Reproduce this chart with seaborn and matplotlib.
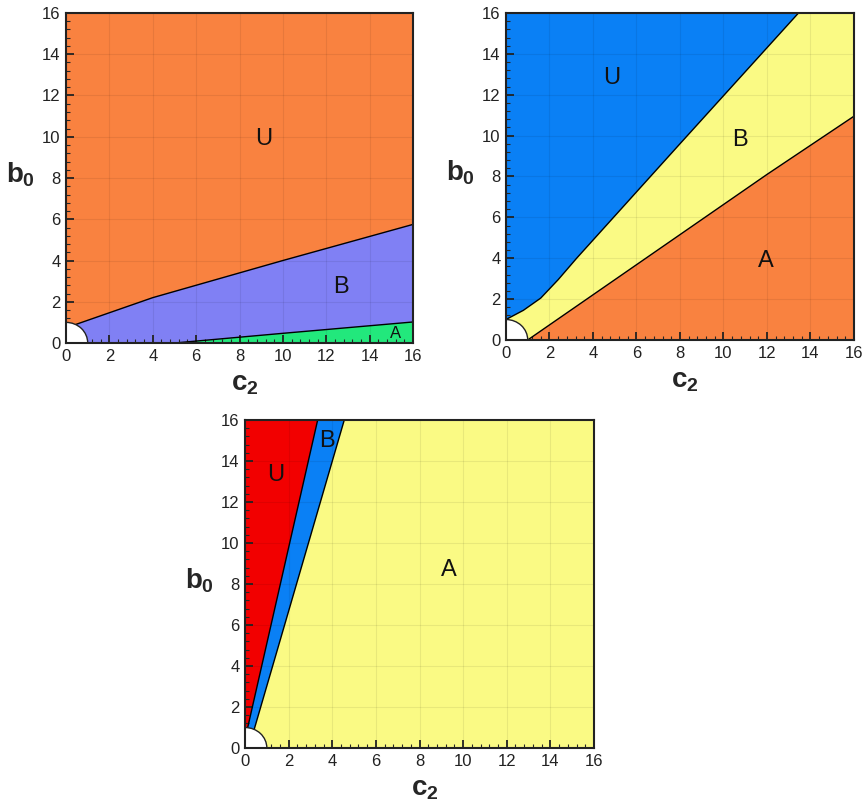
import numpy as np
import matplotlib
matplotlib.use("Agg")
import matplotlib.pyplot as plt
from matplotlib.patches import Wedge
from matplotlib.ticker import MultipleLocator
import seaborn as sns

# ===== DATA : region boundaries (c2, b0) =====
# panel 1
p1_ub_c2 = [0.45, 4.0, 8.0, 10.0, 16.0]
p1_ub_b0 = [0.90, 2.2, 3.4, 4.0, 5.75]
p1_ba_c2 = [5.0, 10.0, 16.0]
p1_ba_b0 = [0.0, 0.47, 1.02]
# panel 2
p2_ub_c2 = [0.0, 0.8, 1.6, 2.4, 3.25, 8.0, 13.45]
p2_ub_b0 = [1.0, 1.45, 2.05, 2.95, 4.0, 9.6, 16.0]
p2_ba_c2 = [1.0, 12.0, 16.0]
p2_ba_b0 = [0.0, 8.1, 10.95]
# panel 3
p3_ub_c2 = [0.12, 3.33]
p3_ub_b0 = [0.99, 16.0]
p3_ba_c2 = [0.42, 4.55]
p3_ba_b0 = [0.91, 16.0]

regions = ["U", "B", "A"]
p1_colors = ["#F98240", "#8080F4", "#22E87C"]
p2_colors = ["#0A80F5", "#FAFA84", "#F98240"]
p3_colors = ["#F20000", "#0A80F5", "#FAFA84"]

p1_label_pos = [(9.1, 9.9), (12.7, 2.7), (15.2, 0.45)]
p2_label_pos = [(4.85, 12.8), (10.75, 9.8), (11.95, 3.85)]
p3_label_pos = [(1.4, 13.3), (3.75, 15.0), (9.35, 8.7)]

sns.set_style("ticks")
plt.rcParams["font.family"] = ["Liberation Sans", "DejaVu Sans"]
plt.rcParams["mathtext.fontset"] = "custom"
plt.rcParams["mathtext.it"] = "Liberation Sans:bold"
plt.rcParams["mathtext.rm"] = "Liberation Sans:bold"
plt.rcParams["mathtext.bf"] = "Liberation Sans:bold"

fig = plt.figure(figsize=(8.64, 8.02), dpi=100)
ax1 = fig.add_axes([0.0764, 0.5723, 0.4016, 0.4115])
ax2 = fig.add_axes([0.5856, 0.5761, 0.4028, 0.4077])
ax3 = fig.add_axes([0.2836, 0.0673, 0.4039, 0.4090])


def style_axes(ax):
    ax.set_xlim(0, 16)
    ax.set_ylim(0, 16)
    ax.xaxis.set_major_locator(MultipleLocator(2))
    ax.yaxis.set_major_locator(MultipleLocator(2))
    ax.xaxis.set_minor_locator(MultipleLocator(0.4))
    ax.yaxis.set_minor_locator(MultipleLocator(0.4))
    ax.tick_params(which="major", direction="in", length=6, width=1.3,
                   labelsize=12, colors="#222222", pad=4,
                   top=False, right=False)
    ax.tick_params(which="minor", direction="in", length=3, width=0.8,
                   top=False, right=False)
    ax.grid(True, which="major", color="black", alpha=0.07, lw=0.8, zorder=3)
    ax.set_axisbelow(False)
    for s in ax.spines.values():
        s.set_linewidth(1.5)
        s.set_color("#222222")
        s.set_zorder(6)
    ax.set_xlabel("$c_2$", fontsize=20, va="center", ha="center")
    ax.set_ylabel("$b_0$", fontsize=20, rotation=0, va="center", ha="center")
    ax.xaxis.set_label_coords(0.515, -0.125)
    ax.yaxis.set_label_coords(-0.13, 0.51)
    # quarter circle (excluded zone)
    ax.add_patch(Wedge((0, 0), 1.0, 0, 90, facecolor="white",
                       edgecolor="#222222", lw=1.0, zorder=5))


def boundary(ax, xs, ys):
    sns.lineplot(x=xs, y=ys, ax=ax, color="black", lw=1.0,
                 sort=False, estimator=None, zorder=4)


def labels(ax, pos, small=None):
    for r, (x, y) in zip(regions, pos):
        fs = 12 if r == small else 17
        ax.text(x, y, r, fontsize=fs, ha="center", va="center",
                color="#111111", zorder=7)


# ===== PANEL 1 =====
ax1.set_facecolor(p1_colors[0])
ax1.fill(p1_ub_c2 + [16, 0, 0], p1_ub_b0 + [0, 0, p1_ub_b0[0]],
         color=p1_colors[1], lw=0, zorder=1)
ax1.fill(p1_ba_c2 + [16], p1_ba_b0 + [0], color=p1_colors[2], lw=0, zorder=2)
boundary(ax1, p1_ub_c2, p1_ub_b0)
boundary(ax1, p1_ba_c2, p1_ba_b0)
style_axes(ax1)
labels(ax1, p1_label_pos, small="A")

# ===== PANEL 2 =====
ax2.set_facecolor(p2_colors[1])
ax2.fill(p2_ub_c2 + [0], p2_ub_b0 + [16], color=p2_colors[0], lw=0, zorder=1)
ax2.fill(p2_ba_c2 + [16], p2_ba_b0 + [0], color=p2_colors[2], lw=0, zorder=1)
boundary(ax2, p2_ub_c2, p2_ub_b0)
boundary(ax2, p2_ba_c2, p2_ba_b0)
style_axes(ax2)
labels(ax2, p2_label_pos)

# ===== PANEL 3 =====
ax3.set_facecolor(p3_colors[2])
ax3.fill(p3_ba_c2 + [0, 0], p3_ba_b0 + [16, p3_ba_b0[0]],
         color=p3_colors[1], lw=0, zorder=1)
ax3.fill(p3_ub_c2 + [0, 0], p3_ub_b0 + [16, p3_ub_b0[0]],
         color=p3_colors[0], lw=0, zorder=2)
boundary(ax3, p3_ub_c2, p3_ub_b0)
boundary(ax3, p3_ba_c2, p3_ba_b0)
style_axes(ax3)
labels(ax3, p3_label_pos)

fig.savefig("out.png", dpi=100)
